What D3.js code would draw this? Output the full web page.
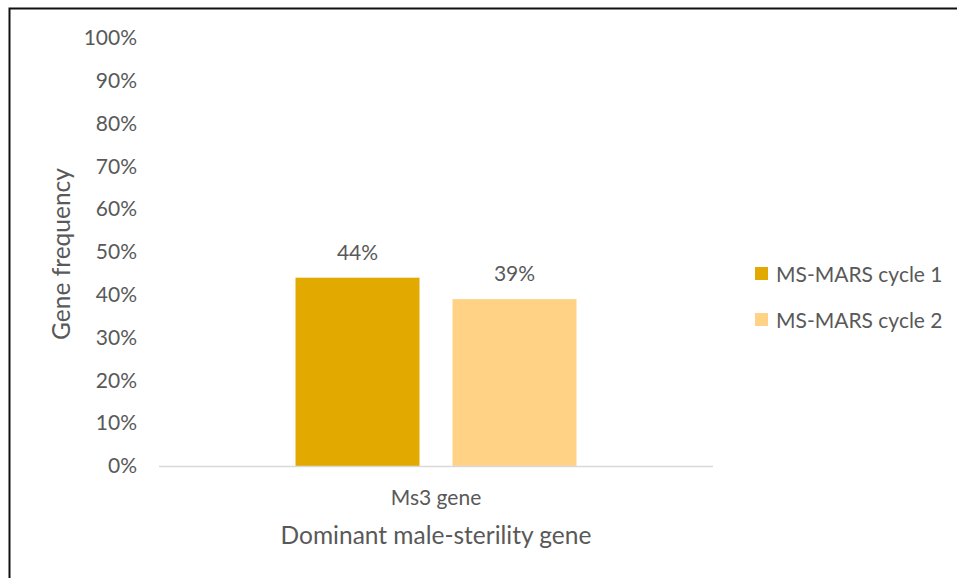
<!DOCTYPE html>
<html>
<head>
<meta charset="utf-8">
<script src="https://cdn.jsdelivr.net/npm/d3@7/dist/d3.min.js"></script>
<style>
  html, body { margin: 0; padding: 0; background: #fff; }
  svg text { font-family: Lato, "Open Sans", sans-serif; fill: #595959; }
</style>
</head>
<body>
<script>
// Gene frequency of the dominant male-sterility gene across MS-MARS cycles
const categories = ["Ms3 gene"];
const seriesNames = ["MS-MARS cycle 1", "MS-MARS cycle 2"];
const cycle1 = [0.44];
const cycle2 = [0.39];
const yTicks = [0, 0.1, 0.2, 0.3, 0.4, 0.5, 0.6, 0.7, 0.8, 0.9, 1.0];
const colors = ["#E2AA00", "#FFD286"];

const W = 957, H = 578;
const svg = d3.select("body").append("svg").attr("width", W).attr("height", H);

// outer frame
svg.append("rect").attr("x", 9.5).attr("y", 8.5).attr("width", W).attr("height", H)
  .attr("fill", "none").attr("stroke", "#111").attr("stroke-width", 2);

const plot = { left: 159, right: 713, top: 38, bottom: 466 };

const x0 = d3.scaleBand().domain(categories).range([plot.left, plot.right]).paddingOuter(0).paddingInner(0);
const y = d3.scaleLinear().domain([0, 1]).range([plot.bottom, plot.top]);

// y axis labels
const yAxis = d3.axisLeft(y).tickValues(yTicks).tickFormat(d3.format(".0%")).tickSize(0).tickPadding(22);
const gy = svg.append("g").attr("transform", `translate(${plot.left},0)`).call(yAxis);
gy.select(".domain").remove();
gy.selectAll("text").style("font-size", "21px").attr("fill", "#595959");

// bars
const rows = categories.map((c, i) => ({ cat: c, vals: [cycle1[i], cycle2[i]] }));
const barW = 124, gap = 33;
const groupW = barW * 2 + gap;
const x1 = d3.scaleBand().domain(seriesNames).range([0, groupW]).paddingInner(gap / (barW + gap)).paddingOuter(0);

const groups = svg.selectAll(".grp").data(rows).enter().append("g")
  .attr("transform", d => `translate(${x0(d.cat) + (x0.bandwidth() - groupW) / 2},0)`);

groups.selectAll("rect").data(d => d.vals.map((v, j) => ({ s: seriesNames[j], v, j })))
  .enter().append("rect")
  .attr("x", d => x1(d.s)).attr("width", x1.bandwidth())
  .attr("y", d => y(d.v)).attr("height", d => y(0) - y(d.v))
  .attr("fill", d => colors[d.j]);

groups.selectAll(".lbl").data(d => d.vals.map((v, j) => ({ s: seriesNames[j], v, j })))
  .enter().append("text")
  .attr("x", d => x1(d.s) + x1.bandwidth() / 2).attr("y", d => y(d.v) - 18)
  .attr("text-anchor", "middle").style("font-size", "21px")
  .text(d => d3.format(".0%")(d.v));

// baseline
svg.append("line").attr("x1", plot.left).attr("x2", plot.right)
  .attr("y1", y(0) + 0.5).attr("y2", y(0) + 0.5)
  .attr("stroke", "#D9D9D9").attr("stroke-width", 1.5);

// category label
const xAxis = d3.axisBottom(x0).tickSize(0).tickPadding(24);
const gx = svg.append("g").attr("transform", `translate(0,${plot.bottom})`).call(xAxis);
gx.select(".domain").remove();
gx.selectAll("text").style("font-size", "21px").attr("fill", "#595959");

// axis titles
svg.append("text").attr("x", (plot.left + plot.right) / 2).attr("y", 544)
  .attr("text-anchor", "middle").style("font-size", "24.5px").text("Dominant male-sterility gene");
svg.append("text").attr("transform", `translate(70,${(plot.top + plot.bottom) / 2 + 2}) rotate(-90)`)
  .attr("text-anchor", "middle").style("font-size", "24.5px").text("Gene frequency");

// legend
const legend = svg.append("g").attr("transform", "translate(755,274)");
seriesNames.forEach((s, i) => {
  const g = legend.append("g").attr("transform", `translate(0,${i * 46})`);
  g.append("rect").attr("x", 0).attr("y", -7).attr("width", 13).attr("height", 13).attr("fill", colors[i]);
  g.append("text").attr("x", 21).attr("y", 7.5).style("font-size", "21px").text(s);
});
</script>
</body>
</html>
